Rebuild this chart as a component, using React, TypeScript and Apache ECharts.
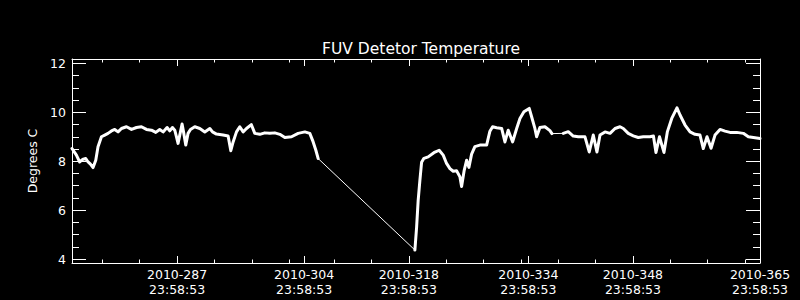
import React, { useEffect, useRef } from "react";
import * as echarts from "echarts";

// ---- Data (day-of-year 2010, tick time 23:58:53; temperatures in °C) ----
const TITLE = "FUV Detetor Temperature";
const Y_NAME = "Degrees C";
const TICK_YEAR = "2010";
const TICK_TIME = "23:58:53";
const X_MIN = 272.94;
const X_MAX = 365;
const Y_MIN = 3.84;
const Y_MAX = 12.18;
const X_MAJOR = [287, 304, 318, 334, 348, 365];
const X_MINOR = [277, 282, 292, 297, 302, 308, 313, 323, 328, 333, 338, 343, 353, 358, 363];
const Y_MAJOR = [4, 6, 8, 10, 12];
const Y_MINOR = [4.5, 5, 5.5, 6.5, 7, 7.5, 8.5, 9, 9.5, 10.5, 11, 11.5];

const SEG1_DAYS = [
  272.94, 273.53, 273.97, 274.34, 274.78, 275.09, 275.41, 275.76, 276.12, 276.42,
  276.88, 277.32, 277.76, 278.22, 278.66, 279.1, 279.56, 280.23, 280.9, 281.57,
  282.23, 282.9, 283.57, 284.15, 284.68, 285.13, 285.66, 286.02, 286.38, 286.69,
  286.92, 287.13, 287.36, 287.67, 287.9, 288.16, 288.47, 288.79, 289.37, 290.04,
  290.71, 291.38, 291.74, 292.27, 293.16, 293.83, 294.19, 294.5, 294.95, 295.39,
  295.84, 296.29, 296.93, 297.4, 298.07, 298.74, 299.41, 300.08, 300.75, 301.42,
  302.31, 303.2, 304.1, 304.76, 305.21, 305.57, 305.88,
];
const SEG1_TEMPS = [
  8.52, 8.25, 7.97, 8.07, 8.11, 7.97, 7.88, 7.74, 8.04, 8.59,
  9.0, 9.07, 9.14, 9.24, 9.3, 9.2, 9.34, 9.41, 9.3, 9.38,
  9.41, 9.3, 9.27, 9.18, 9.3, 9.2, 9.38, 9.24, 9.38, 9.27,
  9.0, 8.73, 9.07, 9.52, 9.14, 8.66, 9.14, 9.3, 9.41, 9.34,
  9.2, 9.34, 9.2, 9.11, 9.07, 9.03, 8.43, 8.79, 9.2, 9.41,
  9.2, 9.34, 9.5, 9.14, 9.1, 9.16, 9.14, 9.16, 9.1, 8.97,
  9.0, 9.14, 9.2, 9.14, 8.79, 8.45, 8.11,
];

const SEG2_DAYS = [
  318.82, 319.05, 319.26, 319.49, 319.72, 320.03, 320.6, 321.36, 322.07, 322.61,
  323.06, 323.51, 323.95, 324.4, 324.85, 325.07, 325.42, 325.74, 326.05, 326.41,
  326.85, 327.52, 328.42, 328.86, 329.22, 329.76, 330.43, 330.87, 331.31, 331.9,
  332.44, 332.88, 333.41, 334.12, 334.44, 334.88, 335.11, 335.55, 336.22, 336.89,
  337.16,
];
const SEG2_TEMPS = [
  4.37, 5.3, 6.4, 7.22, 7.96, 8.12, 8.18, 8.35, 8.45, 8.25,
  7.91, 7.7, 7.59, 7.61, 7.36, 6.97, 7.63, 8.04, 7.75, 8.29,
  8.6, 8.66, 8.66, 9.23, 9.41, 9.37, 9.34, 8.79, 9.27, 8.79,
  9.34, 9.75, 10.02, 10.16, 9.82, 9.34, 9.0, 9.38, 9.41, 9.25,
  9.13,
];

const SEG3_DAYS = [
  338.67, 339.34, 340.01, 340.68, 341.58, 342.15, 342.69, 343.18, 343.59, 344.26,
  344.93, 345.6, 346.27, 346.71, 347.37, 348.04, 348.71, 349.38, 350.28, 350.74,
  351.08, 351.55, 352.15, 352.6, 353.19, 353.89, 354.3, 354.97, 355.64, 356.3,
  356.97, 357.41, 357.91, 358.45, 358.98, 359.65, 360.32, 360.99, 361.89, 362.77,
  363.44, 364.34, 365.0,
];
const SEG3_TEMPS = [
  9.14, 9.21, 9.03, 9.0, 9.0, 8.38, 9.07, 8.38, 9.07, 9.2,
  9.14, 9.34, 9.41, 9.34, 9.14, 9.04, 8.97, 9.0, 9.0, 9.03,
  8.36, 9.0, 8.36, 9.2, 9.75, 10.18, 9.89, 9.48, 9.2, 9.1,
  9.07, 8.52, 9.0, 8.53, 9.07, 9.3, 9.23, 9.18, 9.18, 9.14,
  9.0, 8.96, 8.93,
];

const SEGMENTS = [
  { days: SEG1_DAYS, temps: SEG1_TEMPS },
  { days: SEG2_DAYS, temps: SEG2_TEMPS },
  { days: SEG3_DAYS, temps: SEG3_TEMPS },
];

const FONT = "DejaVu Sans";
const WHITE = "#ffffff";

function tickAxisX(position: string, values: number[], len: number, showLine: boolean, showLabel: boolean) {
  return {
    type: "value",
    position,
    min: X_MIN,
    max: X_MAX,
    axisLine: { show: showLine, lineStyle: { color: WHITE, width: 1 } },
    axisTick: { show: true, inside: true, length: len, customValues: values, lineStyle: { color: WHITE, width: 1 } },
    axisLabel: showLabel
      ? {
          show: true,
          customValues: values,
          color: WHITE,
          fontFamily: FONT,
          fontSize: 12.5,
          lineHeight: 15,
          margin: 4,
          formatter: (v: number) => `${TICK_YEAR}-${Math.round(v)}\n${TICK_TIME}`,
        }
      : { show: false },
    splitLine: { show: false },
  };
}

function tickAxisY(position: string, values: number[], len: number, showLine: boolean, showLabel: boolean, withName: boolean) {
  return {
    type: "value",
    position,
    min: Y_MIN,
    max: Y_MAX,
    name: withName ? Y_NAME : "",
    nameLocation: "middle",
    nameGap: 30,
    nameTextStyle: { color: WHITE, fontFamily: FONT, fontSize: 12.5 },
    axisLine: { show: showLine, lineStyle: { color: WHITE, width: 1 } },
    axisTick: { show: true, inside: true, length: len, customValues: values, lineStyle: { color: WHITE, width: 1 } },
    axisLabel: showLabel
      ? { show: true, customValues: values, color: WHITE, fontFamily: FONT, fontSize: 12.5, margin: 6 }
      : { show: false },
    splitLine: { show: false },
  };
}

export default function App() {
  const ref = useRef<HTMLDivElement>(null);
  useEffect(() => {
    if (!ref.current) return;
    const chart = echarts.init(ref.current, null, { renderer: "svg" });

    const series: any[] = [];
    for (let i = 0; i < SEGMENTS.length - 1; i++) {
      const a = SEGMENTS[i];
      const b = SEGMENTS[i + 1];
      series.push({
        type: "line",
        xAxisIndex: 0,
        yAxisIndex: 0,
        showSymbol: false,
        silent: true,
        lineStyle: { color: WHITE, width: 1 },
        data: [
          [a.days[a.days.length - 1], a.temps[a.temps.length - 1]],
          [b.days[0], b.temps[0]],
        ],
      });
    }
    SEGMENTS.forEach((s) => {
      series.push({
        type: "line",
        xAxisIndex: 0,
        yAxisIndex: 0,
        showSymbol: false,
        silent: true,
        lineStyle: { color: WHITE, width: 3, join: "round", cap: "round" },
        data: s.days.map((d, i) => [d, s.temps[i]]),
      });
    });

    chart.setOption({
      animation: false,
      backgroundColor: "#000000",
      title: {
        text: TITLE,
        left: 416,
        top: 36,
        textAlign: "center",
        textStyle: { color: WHITE, fontFamily: FONT, fontSize: 15.5, fontWeight: "normal" },
      },
      grid: { left: 72, top: 59, width: 688, height: 204, containLabel: false },
      xAxis: [
        tickAxisX("bottom", X_MAJOR, 7, true, true),
        tickAxisX("bottom", X_MINOR, 3.5, false, false),
        tickAxisX("top", X_MAJOR, 7, true, false),
        tickAxisX("top", X_MINOR, 3.5, false, false),
      ],
      yAxis: [
        tickAxisY("left", Y_MAJOR, 14, true, true, true),
        tickAxisY("left", Y_MINOR, 7, false, false, false),
        tickAxisY("right", Y_MAJOR, 14, true, false, false),
        tickAxisY("right", Y_MINOR, 7, false, false, false),
      ],
      series,
    });
    return () => chart.dispose();
  }, []);
  return (
    <div
      ref={ref}
      style={{ position: "fixed", left: 0, top: 0, width: 800, height: 300, background: "#000" }}
    />
  );
}
